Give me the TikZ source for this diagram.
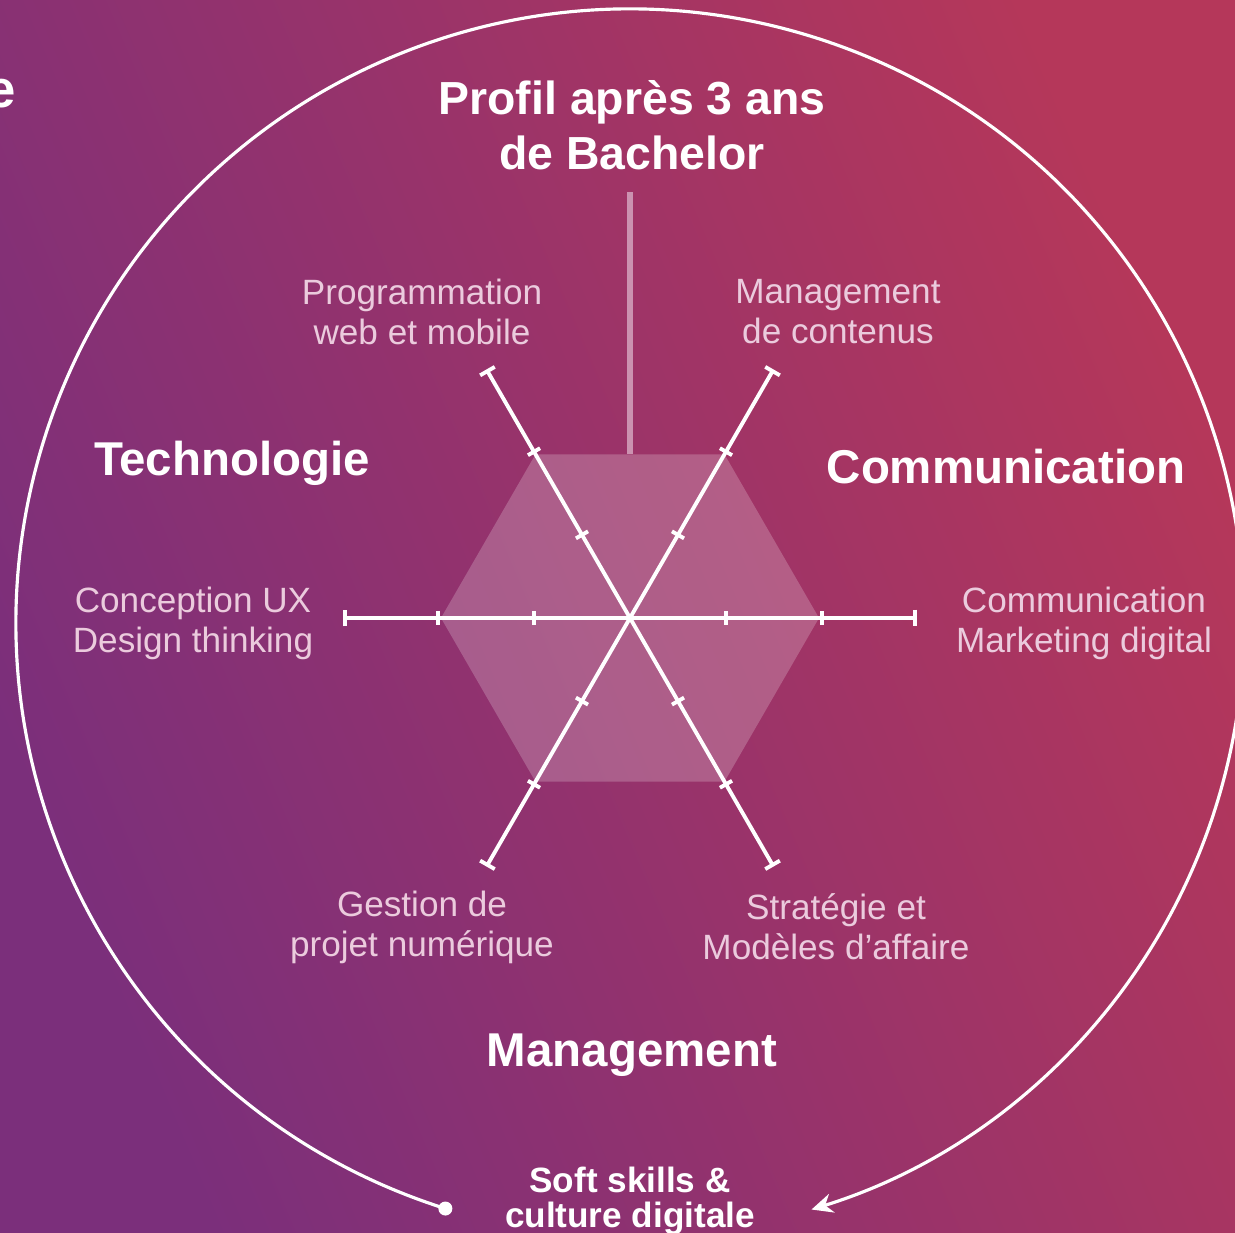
\documentclass[tikz,border=0pt]{standalone}
\usepackage{fontspec}
\setmainfont{Liberation Sans}
\usetikzlibrary{arrows.meta,calc}
\definecolor{bgpurple}{HTML}{7B2F7B}
\definecolor{bgred}{HTML}{B5375A}
\definecolor{lblpink}{HTML}{EBCBDD}
\definecolor{stempink}{HTML}{CB92B0}
\tikzset{
	heading/.style={text=white, font=\fontsize{13.5}{15}\selectfont\bfseries, align=center, inner sep=0pt},
	axislbl/.style={text=lblpink, font=\fontsize{10}{11.4}\selectfont, align=center, inner sep=0pt},
	axisline/.style={white, line width=1.1pt, -{Bar[width=4.8pt]}},
	tickmark/.style={white, line width=1.1pt},
	ring/.style={white, line width=0.9pt, -{Stealth[length=6pt, width=5.5pt]}}
}

\begin{document}
\begin{tikzpicture}
	\shade[bottom color=bgpurple, top color=bgred, shading angle=-67] (-6.30, -6.15) rectangle (6.05, 6.18);
	\useasboundingbox (-6.30, -6.15) rectangle (6.05, 6.18);
	\coordinate (c) at (0, 0);
	%%%%% hexagon and stem
	\fill[white, opacity=0.21] (0:1.89) -- (60:1.89) -- (120:1.89) -- (180:1.89) -- (240:1.89) -- (300:1.89) -- cycle;
	\coordinate (stemtop) at (0, 4.26);
	\coordinate (stembot) at (0, 1.64);
	\draw[stempink, line width=1.7pt] (stembot) -- (stemtop);
	%%%%% axes
	\foreach \ang/\nm in {0/com, 60/cnt, 120/prog, 180/ux, 240/gest, 300/strat} {
		\coordinate (\nm) at (\ang:2.87);
		\draw[axisline] (c) -- (\nm);
		\foreach \r in {0.96, 1.92}
			\draw[tickmark, rotate=\ang] (\r, -0.07) -- (\r, 0.07);
	}
	%%%%% labels
	\node[heading, font=\fontsize{13.2}{15.6}\selectfont\bfseries] (title) at (0.02, 4.93) {Profil après 3 ans\\de Bachelor};
	\node[heading] (tech) at (-3.98, 1.55) {Technologie};
	\node[heading] (comm) at (3.76, 1.51) {Communication};
	\node[heading] (mgmt) at (0.02, -4.37) {Management};
	\node[axislbl] (progl) at (-2.08, 3.06) {Programmation\\web et mobile};
	\node[axislbl] (cntl) at (2.08, 3.06) {Management\\de contenus};
	\node[axislbl] (uxl) at (-4.37, -0.05) {Conception UX\\Design thinking};
	\node[axislbl] (coml) at (4.54, -0.05) {Communication\\Marketing digital};
	\node[axislbl] (gestl) at (-2.08, -3.09) {Gestion de\\projet numérique};
	\node[axislbl] (stratl) at (2.06, -3.09) {Stratégie et\\Modèles d’affaire};
	\node[heading, font=\fontsize{10}{10.2}\selectfont\bfseries] (soft) at (0, -5.83) {Soft skills \&\\culture digitale};
	\node[text=white, font=\fontsize{15}{15}\selectfont\bfseries, anchor=base east, inner sep=0pt] (frag) at (-6.13, 5.10) {e};
	%%%%% ring
	\coordinate (rc) at (0, -0.05);
	\node[circle, fill=white, inner sep=0pt, minimum size=0.14cm] (dot) at ($(rc)+(252.5:6.14)$) {};
	\draw[ring] (dot.center) arc[start angle=252.5, end angle=-72.8, radius=6.14] coordinate (ringend);
\end{tikzpicture}
\end{document}
